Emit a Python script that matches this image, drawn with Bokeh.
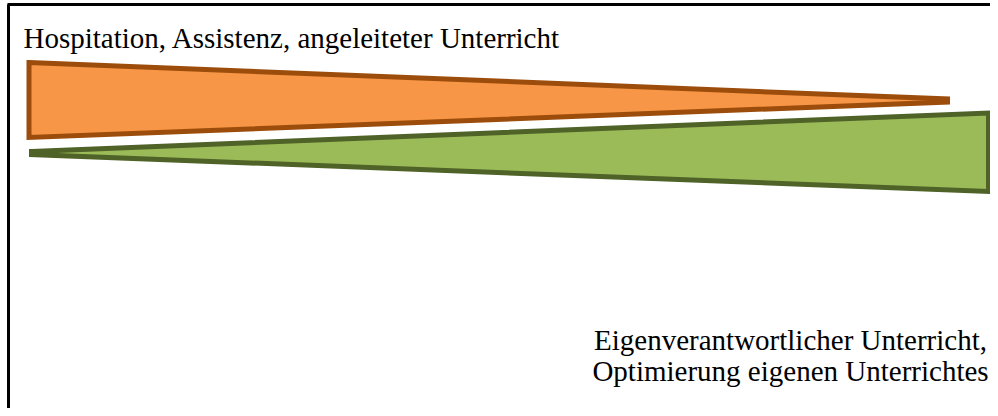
from bokeh.plotting import figure
from bokeh.models import Range1d
from bokeh.core.properties import value
from bokeh.embed import file_html
from bokeh.resources import INLINE

# Shapes (diagram coordinates, y downward)
orange_x = [28.5, 947, 947, 28.5]
orange_y = [62, 98.5, 101.5, 137]
green_x = [31, 988, 988, 31]
green_y = [151, 112.5, 191, 154]

top_label = ["Hospitation, Assistenz, angeleiteter Unterricht"]
bottom_labels = ["Eigenverantwortlicher Unterricht,", "Optimierung eigenen Unterrichtes"]

p = figure(width=990, height=408, output_backend="svg", toolbar_location=None,
           x_range=Range1d(0, 990), y_range=Range1d(408, 0),
           min_border=0, outline_line_color=None)
p.axis.visible = False
p.grid.visible = False
p.background_fill_color = "white"
p.border_fill_color = "white"

# frame
p.line(x=[8, 8], y=[420, 4], line_color="black", line_width=3)
p.line(x=[7, 1000], y=[4, 4], line_color="black", line_width=3)

p.patch(x=orange_x, y=orange_y, fill_color="#F79646", line_color="#9C4D0B",
        line_width=5, line_join="miter")
p.patch(x=green_x, y=green_y, fill_color="#9BBB59", line_color="#4F6228",
        line_width=5, line_join="miter")

p.text(x=[23], y=[37.5], text=top_label, text_font=value("Liberation Serif"),
       text_font_size="29px", text_color="black", text_align="left",
       text_baseline="middle")
p.text(x=[790, 790], y=[339.5, 370.5], text=bottom_labels,
       text_font=value("Liberation Serif"), text_font_size="29px",
       text_color="black", text_align="center", text_baseline="middle")

open("out.html", "w").write(file_html(p, INLINE))
